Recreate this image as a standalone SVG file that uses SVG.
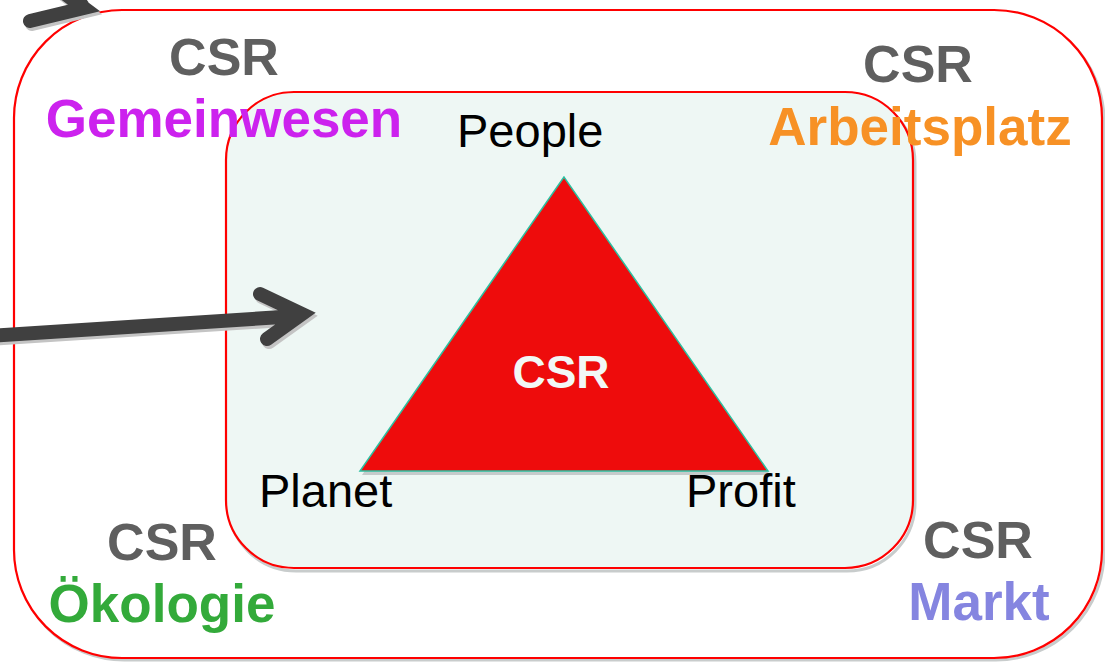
<svg xmlns="http://www.w3.org/2000/svg" width="1105" height="662" viewBox="0 0 1105 662">
<defs>
<style>
.shadow{fill:none;stroke:#c8cccc;stroke-width:3}
.frame{stroke:#ff0000;stroke-width:2.2}
.csr{font-family:"Liberation Sans",Arial,sans-serif;font-weight:bold;font-size:52px;fill:#5f5f5f;text-anchor:middle}
.area{font-family:"Liberation Sans",Arial,sans-serif;font-weight:bold;font-size:53px;text-anchor:middle}
.lbl{font-family:"Liberation Sans",Arial,sans-serif;font-size:47px;fill:#000}
.arrow{fill:none;stroke:#404040;stroke-width:14;stroke-linecap:round;stroke-linejoin:miter;stroke-miterlimit:10}
.arrowsh{fill:none;stroke:#c4c4c4;stroke-width:14;stroke-linecap:round;stroke-linejoin:miter;stroke-miterlimit:10}
</style>
</defs>
<rect width="1105" height="662" fill="#ffffff"/>
<g id="outer">
<rect x="16" y="13" width="1088" height="647" rx="108" ry="108" class="shadow"/>
<rect x="14" y="10" width="1088" height="648" rx="108" ry="108" fill="#ffffff" class="frame"/>
</g>
<g id="inner">
<rect x="228" y="95" width="687" height="476" rx="68" ry="68" class="shadow"/>
<rect x="226" y="92" width="687" height="476" rx="68" ry="68" fill="#eef7f4" class="frame"/>
</g>
<g id="triangle">
<polygon points="566,181 362,475 770,475" fill="#c5cbcb"/>
<polygon points="564,177 360,471 768,471" fill="#ee0c0c" stroke="#2cc0a0" stroke-width="1.5"/>
<text x="561" y="388" class="area" style="font-size:46px" fill="#f2f8f6">CSR</text>
</g>
<g id="labels">
<text x="457" y="147" class="lbl">People</text>
<text x="259" y="507" class="lbl">Planet</text>
<text x="686" y="507" class="lbl">Profit</text>
</g>
<g id="gemeinwesen">
<text x="224" y="75" class="csr">CSR</text>
<text x="224" y="137" class="area" fill="#cc22ee">Gemeinwesen</text>
</g>
<g id="arbeitsplatz">
<text x="918" y="82" class="csr">CSR</text>
<text x="920" y="145" class="area" fill="#f79125">Arbeitsplatz</text>
</g>
<g id="oekologie">
<text x="162" y="560" class="csr">CSR</text>
<text x="162" y="622" class="area" fill="#33aa3a">Ökologie</text>
</g>
<g id="markt">
<text x="978" y="558" class="csr">CSR</text>
<text x="979" y="620" class="area" fill="#8585e0">Markt</text>
</g>
<g id="connectors">
<path d="M-10,339 L300,319 M262,297 L304,317 L269,342" class="arrowsh"/>
<path d="M-10,336 L298,316 M260,294 L302,314 L267,339" class="arrow"/>
<path d="M32,24 L86,11 L50,-16" class="arrowsh"/>
<path d="M30,21 L84,8 L48,-19 M40,-30 L82,5" class="arrow"/>
</g>
</svg>
